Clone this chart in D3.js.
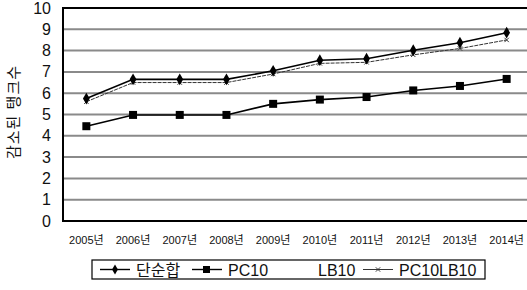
<!DOCTYPE html>
<html>
<head>
<meta charset="utf-8">
<script src="https://cdn.jsdelivr.net/npm/d3@7"></script>
<style>
  body { margin: 0; background: #fff; }
  svg { display: block; }
  text { font-family: "Liberation Sans", "Noto Sans CJK KR", sans-serif; fill: #111; }
</style>
</head>
<body>
<div class="chart"></div>
<script>
const years = ["2005년", "2006년", "2007년", "2008년", "2009년", "2010년", "2011년", "2012년", "2013년", "2014년"];
const dansun = [5.75, 6.65, 6.65, 6.65, 7.05, 7.55, 7.62, 8.02, 8.37, 8.84];
const pc10 = [4.45, 4.98, 4.98, 4.98, 5.5, 5.7, 5.82, 6.13, 6.34, 6.67];
const lb10 = []; // not visible in the picture
const pc10lb10 = [5.6, 6.5, 6.5, 6.5, 6.9, 7.4, 7.45, 7.8, 8.1, 8.5];
const yTicks = [0, 1, 2, 3, 4, 5, 6, 7, 8, 9, 10];
const seriesNames = ["단순합", "PC10", "LB10", "PC10LB10"];

const width = 527;
const height = 290;

const svg = d3.select(".chart")
    .append("svg")
    .attr("width", width)
    .attr("height", height)

const x = d3.scaleBand()
    .domain(years)
    .range([63, 530])
    .padding(0)

const y = d3.scaleLinear()
    .domain([0, 10])
    .range([221, 8])

const cx = d => x(d) + x.bandwidth() / 2;

// gridlines
svg.selectAll(".grid")
    .data(yTicks.filter(t => t > 0 && t < 10))
    .enter()
    .append("line")
    .attr("x1", 64)
    .attr("x2", width)
    .attr("y1", d => y(d))
    .attr("y2", d => y(d))
    .attr("stroke", "#8a8a8a")
    .attr("stroke-width", 2)

// frame
svg.append("path")
    .attr("d", `M${width},${y(10)}H63V${y(0)}H${width}`)
    .attr("fill", "none")
    .attr("stroke", "#000")
    .attr("stroke-width", 2)

// y tick labels
svg.selectAll(".ylab")
    .data(yTicks)
    .enter()
    .append("text")
    .text(d => d)
    .attr("x", 51)
    .attr("y", d => y(d) + 5.5)
    .attr("text-anchor", "end")
    .attr("font-size", "16px")

// x tick labels
svg.selectAll(".xlab")
    .data(years)
    .enter()
    .append("text")
    .text(d => d)
    .attr("x", d => cx(d))
    .attr("y", 244)
    .attr("text-anchor", "middle")
    .attr("font-size", "11px")

// y title
svg.append("text")
    .text("감소된 탱크수")
    .attr("transform", "translate(19,112) rotate(-90)")
    .attr("text-anchor", "middle")
    .attr("font-size", "15px")
    .attr("letter-spacing", "1px")

const line = d3.line()
    .x((d, i) => cx(years[i]))
    .y(d => y(d))

// PC10LB10 thin line
svg.append("path")
    .datum(pc10lb10)
    .attr("d", line)
    .attr("fill", "none")
    .attr("stroke", "#333")
    .attr("stroke-width", 1)
    .attr("stroke-dasharray", "4,1")

svg.selectAll(".xmark")
    .data(pc10lb10)
    .enter()
    .append("path")
    .attr("d", d3.symbol(d3.symbolX, 14))
    .attr("transform", (d, i) => `translate(${cx(years[i])},${y(d)})`)
    .attr("stroke", "#333")
    .attr("stroke-width", 1)

// 단순합
svg.append("path")
    .datum(dansun)
    .attr("d", line)
    .attr("fill", "none")
    .attr("stroke", "#000")
    .attr("stroke-width", 1.6)

svg.selectAll(".diamond")
    .data(dansun)
    .enter()
    .append("path")
    .attr("d", d3.symbol(d3.symbolDiamond, 40))
    .attr("transform", (d, i) => `translate(${cx(years[i])},${y(d)})`)
    .attr("fill", "#000")

// PC10
svg.append("path")
    .datum(pc10)
    .attr("d", line)
    .attr("fill", "none")
    .attr("stroke", "#000")
    .attr("stroke-width", 1.6)

svg.selectAll(".square")
    .data(pc10)
    .enter()
    .append("rect")
    .attr("x", (d, i) => cx(years[i]) - 4)
    .attr("y", d => y(d) - 4)
    .attr("width", 8)
    .attr("height", 8)
    .attr("fill", "#000")

// legend
const lg = svg.append("g")
lg.append("rect")
    .attr("x", 92)
    .attr("y", 260)
    .attr("width", 393)
    .attr("height", 19)
    .attr("fill", "#fff")
    .attr("stroke", "#000")
    .attr("stroke-width", 1.2)

const legendX = [100, 192, 290, 363];
const ly = 269.5;
seriesNames.forEach(function(name, i) {
  const x0 = legendX[i];
  if (i != 2) {
    lg.append("line")
      .attr("x1", x0).attr("x2", x0 + 30)
      .attr("y1", ly).attr("y2", ly)
      .attr("stroke", i == 3 ? "#333" : "#000")
      .attr("stroke-width", i == 3 ? 1 : 1.4)
  }
  if (i == 0) {
    lg.append("path")
      .attr("d", d3.symbol(d3.symbolDiamond, 30))
      .attr("transform", `translate(${x0 + 15},${ly})`)
  } else if (i == 1) {
    lg.append("rect")
      .attr("x", x0 + 11).attr("y", ly - 3.5)
      .attr("width", 7).attr("height", 7)
  } else if (i == 3) {
    lg.append("path")
      .attr("d", d3.symbol(d3.symbolX, 14))
      .attr("transform", `translate(${x0 + 15},${ly})`)
      .attr("stroke", "#333")
  }
  lg.append("text")
    .text(name)
    .attr("x", i == 2 ? 318 : x0 + 36)
    .attr("y", 275.5)
    .attr("font-size", "16px")
});
</script>
</body>
</html>
